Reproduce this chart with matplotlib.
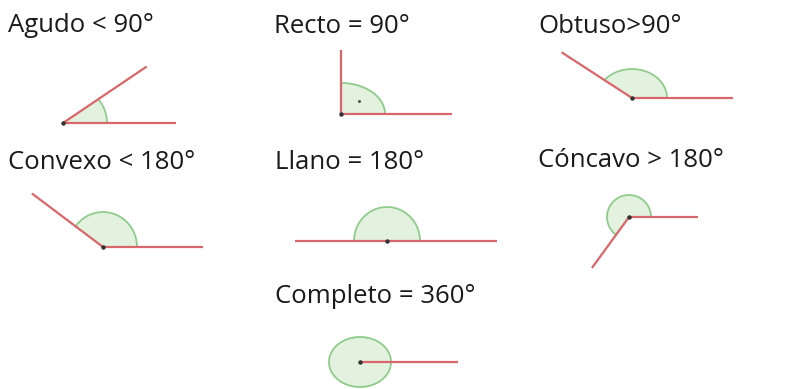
import numpy as np
import matplotlib
matplotlib.use("Agg")
import matplotlib.pyplot as plt
from matplotlib.patches import Polygon

# ---- data ----
labels = ["Agudo < 90°", "Recto = 90°", "Obtuso>90°",
          "Convexo < 180°", "Llano = 180°", "Cóncavo > 180°",
          "Completo = 360°"]
angles = [34, 90, 147, 143, 180, 234, 360]   # opening angle (degrees)

# ---- layout (pixels) ----
text_pos = [(8, 32), (274, 33), (538, 33),
            (8, 169), (275, 169), (538, 167),
            (275, 303)]
vertex = [(63, 123), (341, 114), (632, 98),
          (103, 247), (387, 241), (629, 217),
          (360, 362)]
arc_r = [(44, 40), (44, 31), (35, 29),
         (34, 35), (33, 34), (22, 22),
         (31, 25)]
ray_len = [(113, 101), (111, 64), (101, 84),
           (100, 89), (110, 92), (69, 63),
           (98, None)]

RED = "#d9666a"
GEDGE = "#8fcc8c"
GFILL = "#e3f2df"

fig = plt.figure(figsize=(7.86, 3.89), dpi=100)
ax = fig.add_axes([0, 0, 1, 1])
ax.set_xlim(0, 786)
ax.set_ylim(389, 0)
ax.axis("off")

def rpol(th, rx, ry):
    return 1.0 / np.sqrt((np.cos(th) / rx) ** 2 + (np.sin(th) / ry) ** 2)

for lab, ang, tp, v, (rx, ry), (l1, l2) in zip(labels, angles, text_pos, vertex, arc_r, ray_len):
    ax.text(tp[0], tp[1], lab, fontsize=18.5, family=["Open Sans", "DejaVu Sans"],
            va="baseline", ha="left", color="#1a1a1a")
    vx, vy = v
    a = np.deg2rad(ang)
    th = np.linspace(0, a, 200)
    r = rpol(th, rx, ry)
    xs = vx + r * np.cos(th)
    ys = vy - r * np.sin(th)
    if ang < 360:
        poly = np.column_stack([np.r_[vx, xs, vx], np.r_[vy, ys, vy]])
        ax.add_patch(Polygon(poly, closed=True, facecolor=GFILL, edgecolor="none", zorder=1))
        ax.plot(xs, ys, color=GEDGE, lw=1.3, zorder=2)
    else:
        ax.add_patch(Polygon(np.column_stack([xs, ys]), closed=True, facecolor=GFILL,
                             edgecolor=GEDGE, lw=1.3, zorder=1))
    # rays
    ax.plot([vx, vx + l1], [vy, vy], color=RED, lw=1.6, zorder=3, solid_capstyle="butt")
    if l2 is not None:
        ax.plot([vx, vx + l2 * np.cos(a)], [vy, vy - l2 * np.sin(a)], color=RED, lw=1.6,
                zorder=3, solid_capstyle="butt")
    ax.plot([vx], [vy], marker="o", ms=2.2, color="#333333", zorder=4)
    if ang == 90:
        ax.plot([vx + 18], [vy - 13], marker="o", ms=1.2, color="#555555", zorder=4)

fig.savefig("out.png", dpi=100)
